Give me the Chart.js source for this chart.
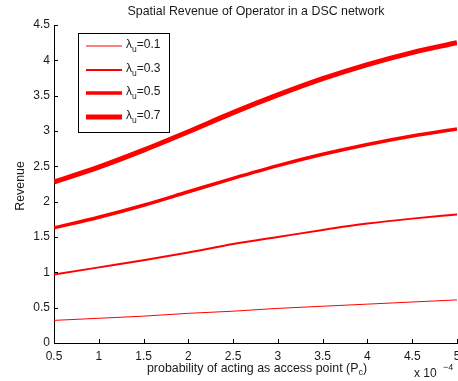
<!DOCTYPE html>
<html>
<head>
<meta charset="utf-8">
<script src="https://cdn.jsdelivr.net/npm/chart.js@4/dist/chart.umd.min.js"></script>
<style>
  html, body { margin: 0; padding: 0; background: #fff; }
  #wrap { width: 458px; height: 381px; }
</style>
</head>
<body>
<div id="wrap"><canvas id="revChart" width="458" height="381"></canvas></div>
<script>
// probability of acting as access point (x 10^-4)
const pc = [0.5, 1, 1.5, 2, 2.5, 3, 3.5, 4, 4.5, 5];
// revenue for each lambda_u
const rev01 = [0.32, 0.35, 0.38, 0.42, 0.45, 0.49, 0.52, 0.55, 0.58, 0.61];
const rev03 = [0.97, 1.07, 1.17, 1.28, 1.40, 1.50, 1.60, 1.69, 1.76, 1.82];
const rev05 = [1.63, 1.78, 1.95, 2.14, 2.33, 2.51, 2.67, 2.81, 2.93, 3.03];
const rev07 = [2.28, 2.49, 2.73, 2.99, 3.26, 3.51, 3.74, 3.94, 4.11, 4.25];
const lambdas = ['0.1', '0.3', '0.5', '0.7'];

const FONT = '"Liberation Sans", Arial, sans-serif';
const RED = '#ff0000';
const TXT = '#1a1a1a';

function pts(ys) {
    return ys.map(function (y, i) { return { x: pc[i], y: y }; });
}

const series = [rev01, rev03, rev05, rev07];
const widths = [1, 2, 3.5, 5];

const data = {
    datasets: series.map(function (s, i) {
        return {
            label: lambdas[i],
            data: pts(s),
            borderColor: RED,
            backgroundColor: RED,
            borderWidth: widths[i],
            pointRadius: 0,
            cubicInterpolationMode: 'monotone',
            fill: false
        };
    })
};

// draws title, axis labels, inward ticks and the boxed legend
const decorPlugin = {
    id: 'decor',
    afterDraw: function (chart) {
        const ctx = chart.ctx;
        const area = chart.chartArea;
        const xs = chart.scales.x;
        const ys = chart.scales.y;
        ctx.save();
        ctx.fillStyle = TXT;
        ctx.strokeStyle = '#000';
        ctx.lineWidth = 1;

        // inward tick marks
        ctx.beginPath();
        ys.ticks.forEach(function (t) {
            const py = Math.round(ys.getPixelForValue(t.value)) + 0.5;
            ctx.moveTo(area.left, py);
            ctx.lineTo(area.left + 4, py);
        });
        xs.ticks.forEach(function (t) {
            const px = Math.round(xs.getPixelForValue(t.value)) + 0.5;
            ctx.moveTo(px, area.bottom);
            ctx.lineTo(px, area.bottom - 4);
        });
        ctx.stroke();

        // title
        ctx.font = '12.4px ' + FONT;
        ctx.textAlign = 'center';
        ctx.textBaseline = 'middle';
        ctx.fillText('Spatial Revenue of Operator in a DSC network', 256, 12);

        // x label with subscript
        const xMain = 'probability of acting as access point (P';
        ctx.textAlign = 'left';
        ctx.font = '12.4px ' + FONT;
        const w1 = ctx.measureText(xMain).width;
        ctx.font = '9px ' + FONT;
        const w2 = ctx.measureText('c').width;
        ctx.font = '12.4px ' + FONT;
        const w3 = ctx.measureText(')').width;
        let x0 = 257 - (w1 + w2 + w3) / 2;
        const yl = 369;
        ctx.fillText(xMain, x0, yl);
        ctx.font = '9px ' + FONT;
        ctx.fillText('c', x0 + w1, yl + 4);
        ctx.font = '12.4px ' + FONT;
        ctx.fillText(')', x0 + w1 + w2, yl);

        // exponent
        ctx.font = '12px ' + FONT;
        ctx.fillText('x 10', 414, 374);
        ctx.font = '9px ' + FONT;
        ctx.fillText('\u22124', 443, 368);

        // y label
        ctx.font = '12.4px ' + FONT;
        ctx.translate(21, 186);
        ctx.rotate(-Math.PI / 2);
        ctx.textAlign = 'center';
        ctx.fillText('Revenue', 0, 0);
        ctx.setTransform(1, 0, 0, 1, 0, 0);

        // legend box
        const lx = 78.5, ly = 33.5, lw = 91, lh = 99;
        ctx.fillStyle = '#fff';
        ctx.fillRect(lx, ly, lw, lh);
        ctx.strokeStyle = '#000';
        ctx.lineWidth = 1;
        ctx.strokeRect(lx, ly, lw, lh);
        const rows = [46, 70, 93, 117];
        chart.data.datasets.forEach(function (ds, i) {
            const ry = rows[i];
            ctx.strokeStyle = ds.borderColor;
            ctx.lineWidth = ds.borderWidth;
            ctx.beginPath();
            ctx.moveTo(86, ry);
            ctx.lineTo(122, ry);
            ctx.stroke();
            ctx.fillStyle = TXT;
            ctx.textAlign = 'left';
            ctx.font = '12px ' + FONT;
            ctx.fillText('\u03bb', 126, ry - 1);
            const lw1 = ctx.measureText('\u03bb').width;
            ctx.font = '8.5px ' + FONT;
            ctx.fillText('u', 126 + lw1, ry + 4);
            const lw2 = ctx.measureText('u').width;
            ctx.font = '12px ' + FONT;
            ctx.fillText('=' + ds.label, 126 + lw1 + lw2, ry - 1);
        });
        ctx.restore();
    }
};

const config = {
    type: 'line',
    data: data,
    options: {
        responsive: false,
        animation: false,
        layout: { padding: { left: 0, right: 1, top: 25, bottom: 0 } },
        plugins: {
            legend: { display: false },
            title: { display: false },
            tooltip: { enabled: false }
        },
        scales: {
            x: {
                type: 'linear',
                min: 0.5,
                max: 5,
                grid: { display: false, drawTicks: false },
                border: { display: true, color: '#000', width: 1 },
                ticks: {
                    stepSize: 0.5,
                    autoSkip: false,
                    maxRotation: 0,
                    padding: 6,
                    color: TXT,
                    font: { family: FONT, size: 12 },
                    callback: function (v) { return String(v); }
                },
                afterFit: function (s) {
                    s.height = 38;
                    s.paddingLeft = 0;
                    s.paddingRight = 0;
                }
            },
            y: {
                min: 0,
                max: 4.5,
                grid: { display: false, drawTicks: false },
                border: { display: true, color: '#000', width: 1 },
                ticks: {
                    stepSize: 0.5,
                    autoSkip: false,
                    padding: 4,
                    color: TXT,
                    font: { family: FONT, size: 12 },
                    callback: function (v) { return String(v); }
                },
                afterFit: function (s) {
                    s.width = 54;
                    s.paddingTop = 0;
                    s.paddingBottom = 0;
                }
            }
        }
    },
    plugins: [decorPlugin]
};

window.addEventListener('DOMContentLoaded', function () {
    new Chart(document.getElementById('revChart'), config);
});
</script>
</body>
</html>
